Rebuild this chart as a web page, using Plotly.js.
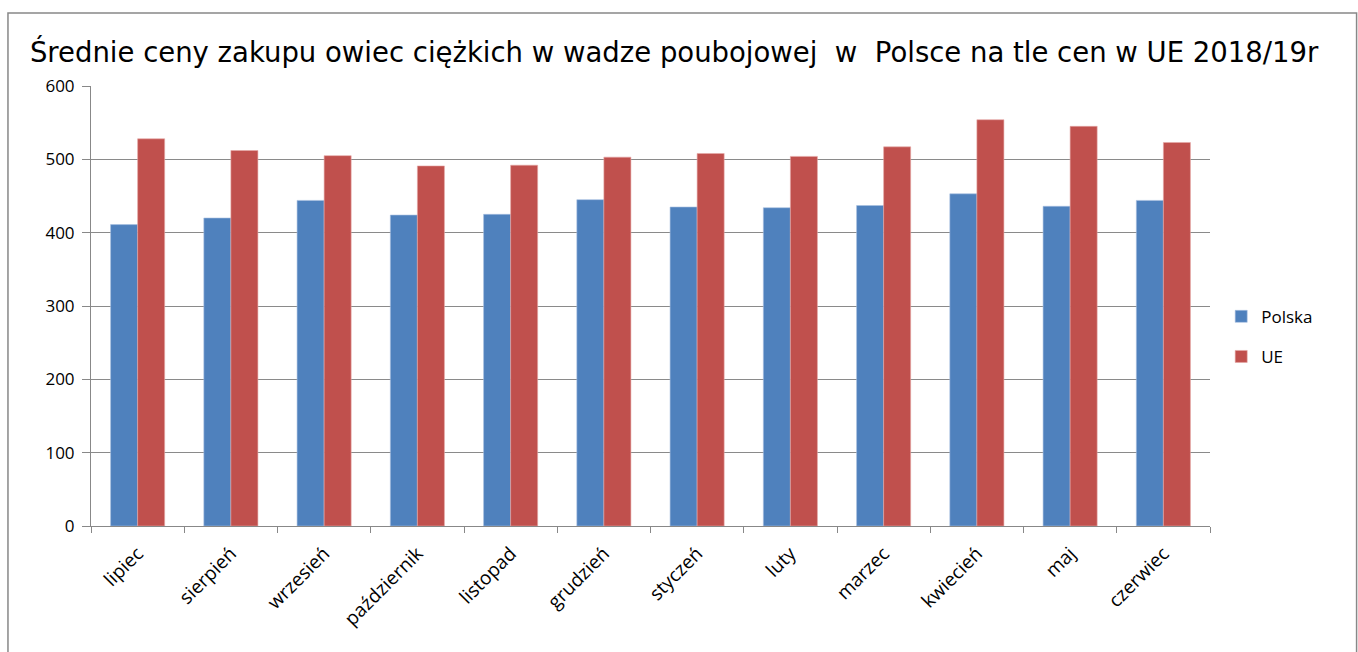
<!DOCTYPE html>
<html>
<head>
<meta charset="utf-8">
<script src="https://cdn.plot.ly/plotly-3.0.1.min.js"></script>
<style>html,body{margin:0;padding:0;background:#fff;}#chart{width:1358px;height:652px;}</style>
</head>
<body>
<div id="chart"></div>
<script>
const months = ["lipiec","sierpień","wrzesień","październik","listopad","grudzień","styczeń","luty","marzec","kwiecień","maj","czerwiec"];
const polska = [411, 420, 444, 424, 425, 445, 435, 434, 437, 453, 436, 444];
const ue = [528, 512, 505, 491, 492, 503, 508, 504, 517, 554, 545, 523];
const yTicks = [0, 100, 200, 300, 400, 500, 600];
const titleText = "Średnie ceny zakupu owiec ciężkich w wadze poubojowej&nbsp;&nbsp;w&nbsp;&nbsp;Polsce na tle cen w UE 2018/19r";

const traces = [
  {type:"bar", name:"Polska", x:months, y:polska, marker:{color:"#4F81BD", line:{color:"#A8C0E0", width:0.6}}, legendgroup:"a"},
  {type:"bar", name:"UE", x:months, y:ue, marker:{color:"#C0504D", line:{color:"#E6A8A6", width:0.6}}, legendgroup:"b"}
];

const layout = {
  width:1358, height:652,
  margin:{l:91, r:148, t:86, b:126},
  paper_bgcolor:"#fff", plot_bgcolor:"#fff",
  title:{text:titleText, x:0.022, xanchor:"left", y:0.92, yanchor:"middle",
         font:{family:"DejaVu Sans", size:27.5, color:"#000"}},
  barmode:"group", bargap:0.42, bargroupgap:0,
  xaxis:{type:"category", tickangle:-45, tickson:"boundaries", ticks:"outside", ticklen:6, tickcolor:"#888",
         showline:true, linecolor:"#888", linewidth:1, showgrid:false, ticklabelstandoff:8,
         tickfont:{family:"Open Sans", size:19, color:"#000"}},
  yaxis:{range:[0,600], tickvals:yTicks, ticktext:yTicks.map(String), ticks:"outside", ticklen:8, tickcolor:"#888",
         showline:true, linecolor:"#888", linewidth:1, showgrid:true, gridcolor:"#8a8a8a", gridwidth:1,
         zeroline:false, ticklabelstandoff:4, tickfont:{family:"Open Sans", size:17, color:"#000"}},
  legend:{x:1.01, xanchor:"left", y:0.43, yanchor:"middle", font:{family:"Open Sans", size:17, color:"#000"},
          tracegroupgap:15, traceorder:"grouped", bgcolor:"rgba(0,0,0,0)"},
  shapes:[
    {type:"rect", xref:"paper", yref:"paper", x0:-0.0742, x1:1.131, y0:-0.35, y1:1.166,
     line:{color:"#888", width:1.5}, fillcolor:"rgba(0,0,0,0)", layer:"below"}
  ]
};

Plotly.newPlot("chart", traces, layout, {displayModeBar:false, staticPlot:true});
</script>
</body>
</html>
